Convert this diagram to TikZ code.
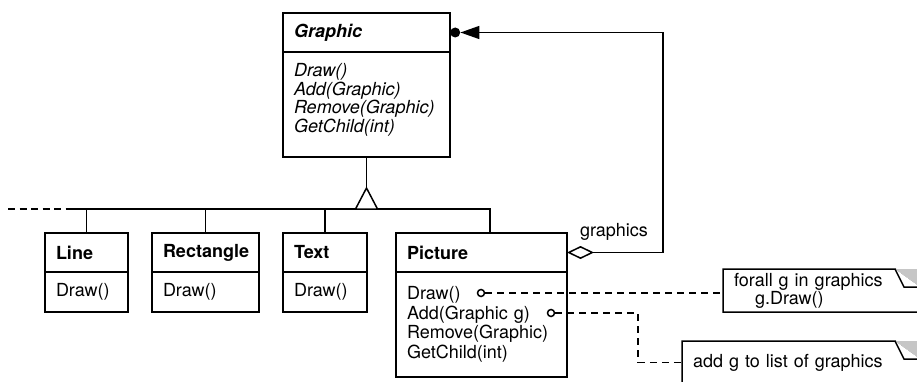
\documentclass[tikz,border=0pt]{standalone}
\usepackage{fontspec}
\setmainfont{TeX Gyre Heros}
\usetikzlibrary{arrows.meta, calc, positioning}
\newcommand{\umlfont}{\fontsize{18}{19.5}\selectfont}
\newcommand{\notefont}{\fontsize{18}{14.5}\selectfont}
% outline of a note with a dog-ear in the upper right corner
\newcommand{\notebox}[1]{%
  \draw[wire] (#1.north west) -- ($(#1.north east)+(-25,0)$) -- ($(#1.north east)+(0,18)$) -- (#1.south east) -- (#1.south west) -- cycle;
  \fill[gray!45] ($(#1.north east)+(-25,0)$) -- (#1.north east) -- ($(#1.north east)+(0,18)$) -- cycle;
  \draw[wire, fill=white] ($(#1.north east)+(-25,0)$) -- ($(#1.north east)+(-16,18)$) -- ($(#1.north east)+(0,18)$);
}
\tikzset{
  wire/.style={line width=1.5pt},
  umlbox/.style={draw, wire, anchor=north west, outer sep=0pt, inner xsep=11pt, inner ysep=0pt, align=left},
  classhead/.style={umlbox, font=\umlfont\bfseries, minimum height=39pt},
  classops/.style={umlbox, font=\umlfont},
  pin/.style={circle, draw, wire, fill=white, inner sep=0pt, minimum size=7pt},
  notetext/.style={anchor=north west, outer sep=0pt, inner xsep=11pt, inner ysep=0pt, align=left, font=\notefont, minimum height=43pt},
  notelink/.style={wire, dash pattern=on 7pt off 5pt},
}

\begin{document}
\begin{tikzpicture}[x=1pt, y=-1pt]
  \useasboundingbox (0,0) rectangle (917,382);
  \clip (0,0) rectangle (917,382);

  % Graphic
  \node[classhead, text width=145pt, font=\umlfont\bfseries\itshape] (graphic-head) at (283,13) {Graphic};
  \node[classops, text width=145pt, minimum height=105pt, text depth=68.5pt, font=\fontsize{18}{18.5}\selectfont\itshape] (graphic-ops) at (graphic-head.south west) {Draw()\\Add(Graphic)\\Remove(Graphic)\\GetChild(int)};

  % subclasses
  \node[classhead, text width=61pt] (line-head) at (45,233) {Line};
  \node[classops, text width=61pt, minimum height=40pt] (line-ops) at (line-head.south west) {Draw()};
  \node[classhead, text width=85pt] (rectangle-head) at (152,233) {Rectangle};
  \node[classops, text width=85pt, minimum height=40pt] (rectangle-ops) at (rectangle-head.south west) {Draw()};
  \node[classhead, text width=62pt] (text-head) at (283,233) {Text};
  \node[classops, text width=62pt, minimum height=40pt] (text-ops) at (text-head.south west) {Draw()};
  \node[classhead, text width=149pt] (picture-head) at (396,233) {Picture};
  \node[classops, text width=149pt, minimum height=105pt] (picture-ops) at (picture-head.south west) {Draw()\\Add(Graphic g)\\Remove(Graphic)\\GetChild(int)};

  % inheritance
  \coordinate (tri-top) at (366.5,188);
  \coordinate (tri-base) at (366.5,209);
  \coordinate (bus-left) at (8,209);
  \coordinate (bus-start) at (72,209);
  \coordinate (pic-drop) at ($(picture-head.north west)+(94,0)$);
  \draw[wire] (graphic-ops.south) -- (tri-top);
  \draw[wire, dash pattern=on 7pt off 4.5pt] (bus-left) -- (bus-start);
  \draw[wire] (bus-start) -| (pic-drop);
  \foreach \cls in {line, rectangle, text}
    \draw[wire] (\cls-head.north) -- (\cls-head.north |- tri-base);
  \draw[wire, fill=white] (tri-top) -- ++(-11,21) -- ++(22,0) -- cycle;

  % aggregation
  \node[circle, fill, inner sep=0pt, minimum size=10pt, anchor=west] (graphic-dot) at (graphic-head.east) {};
  \coordinate (agg-corner) at (663,140);
  \draw[wire, {Diamond[open, fill=white, length=27pt, width=13pt]}-{Triangle[length=19pt, width=13pt]}] (picture-head.east) -| (agg-corner) |- (graphic-dot.east);
  \node[font=\umlfont] (graphics-label) at (614,232) {graphics};

  % notes
  \node[notetext, text width=175pt] (forall-note) at (723,269) {forall g in graphics\\\hspace*{21pt}g.Draw()};
  \node[notetext, text width=216pt] (add-note) at (682,341) {add g to list of graphics};
  \notebox{forall-note}
  \notebox{add-note}

  \node[pin] (draw-pin) at (481,293) {};
  \node[pin] (add-pin) at (551,313) {};
  \coordinate (add-bend) at (638,0);
  \draw[notelink] (draw-pin.east) -- (draw-pin.east -| forall-note.west);
  \draw[notelink] (add-pin.east) -| (add-bend |- add-note.west) -- (add-note.west);
\end{tikzpicture}
\end{document}
